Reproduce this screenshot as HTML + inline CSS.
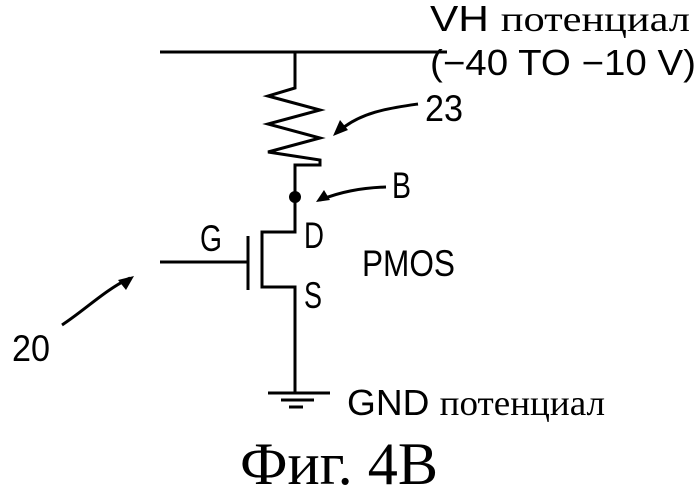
<!DOCTYPE html>
<html><head><meta charset="utf-8"><style>
html,body{margin:0;padding:0;background:#fff;width:699px;height:496px;overflow:hidden}
svg{display:block}
text{font-family:"Liberation Sans",sans-serif;fill:#000}
</style></head><body>
<svg width="699" height="496" viewBox="0 0 699 496">
<g stroke="#000" stroke-width="3" fill="none" stroke-linejoin="miter">
<line x1="160" y1="52" x2="447" y2="52"/>
<polyline points="295,52 295,88 268,96 320,110 268,124 320,138 268,152 320,160 320,165 295,165 295,232 262,232 262,287 295,287 295,393"/>
<line x1="248" y1="236" x2="248" y2="290"/>
<line x1="160" y1="262" x2="248" y2="262"/>
<line x1="268" y1="393" x2="330" y2="393"/>
<line x1="281" y1="400" x2="314" y2="400"/>
<line x1="289" y1="407" x2="303" y2="407"/>
<path d="M418,104 C390,108 360,112 338,132"/>
<path d="M386,187 C360,188 340,192 320,200"/>
<path d="M62,325 C85,310 105,290 130,278"/>
</g>
<circle cx="295" cy="197" r="6" fill="#000"/>
<polygon points="333,136 340,120 348,130" fill="#000"/>
<polygon points="316,202 324,190 330,200" fill="#000"/>
<polygon points="134,276 118,280 126,290" fill="#000"/>
<text x="430" y="31" font-size="36" textLength="260" lengthAdjust="spacingAndGlyphs">VH <tspan font-family="Liberation Serif">потенциал</tspan></text>
<text x="430" y="75" font-size="36" textLength="266" lengthAdjust="spacingAndGlyphs">(−40 TO −10 V)</text>
<text x="425" y="121" font-size="37" textLength="38" lengthAdjust="spacingAndGlyphs">23</text>
<text x="392" y="198" font-size="37" textLength="19" lengthAdjust="spacingAndGlyphs">B</text>
<text x="304" y="248" font-size="37" textLength="20" lengthAdjust="spacingAndGlyphs">D</text>
<text x="200" y="251" font-size="37" textLength="22" lengthAdjust="spacingAndGlyphs">G</text>
<text x="362" y="276" font-size="37" textLength="93" lengthAdjust="spacingAndGlyphs">PMOS</text>
<text x="304" y="308" font-size="37" textLength="18" lengthAdjust="spacingAndGlyphs">S</text>
<text x="12" y="361" font-size="37" textLength="38" lengthAdjust="spacingAndGlyphs">20</text>
<text x="347" y="415" font-size="36" textLength="258" lengthAdjust="spacingAndGlyphs">GND <tspan font-family="Liberation Serif">потенциал</tspan></text>
<text x="240" y="484" font-size="60" textLength="198" lengthAdjust="spacingAndGlyphs" style="font-family:'Liberation Serif',serif">Фиг. 4B</text>
</svg>
</body></html>
